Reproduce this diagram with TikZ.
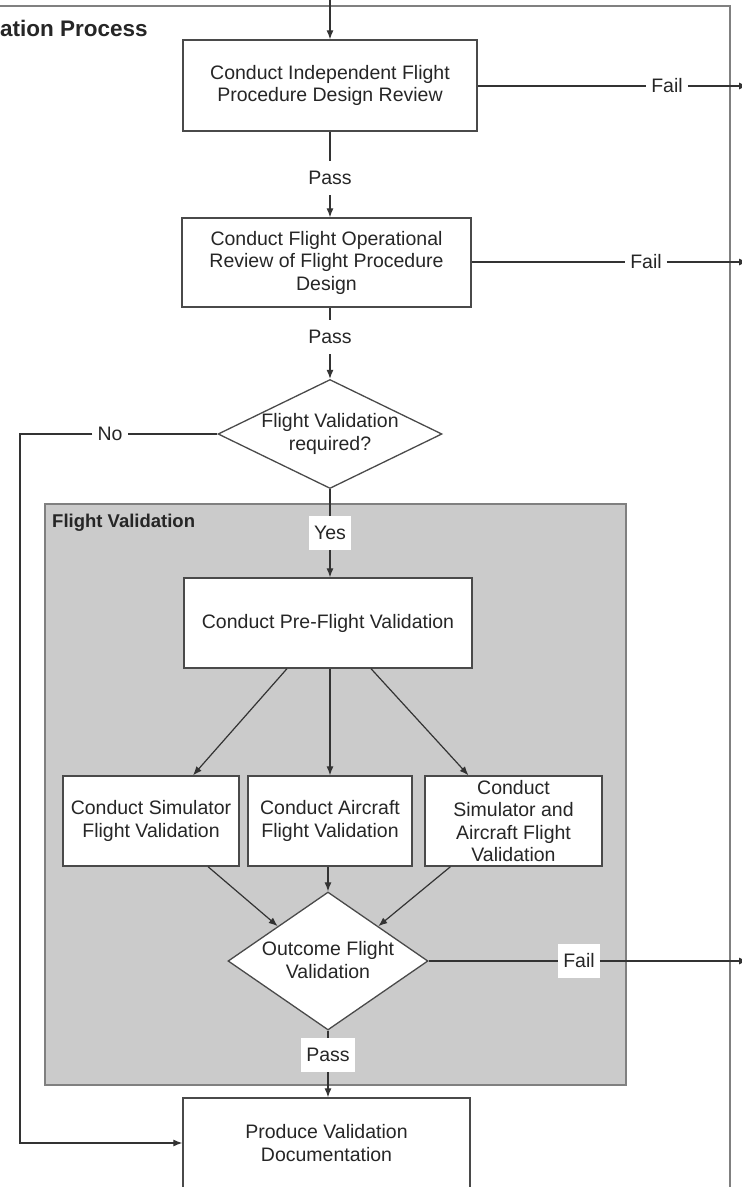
\documentclass[tikz,border=0pt]{standalone}
\usepackage{fontspec}
\setmainfont{Liberation Sans}
\usetikzlibrary{shapes.geometric,arrows.meta}
\definecolor{ln}{HTML}{333333}
\definecolor{tx}{HTML}{262626}
\definecolor{framec}{HTML}{808080}
\definecolor{panelc}{HTML}{CBCBCB}
\definecolor{bd}{HTML}{4A4A4A}
\begin{document}
\begin{tikzpicture}[x=1pt,y=-1pt,
  font=\fontsize{19.5}{22.5}\selectfont, text=tx,
  box/.style={draw=bd, line width=1.3pt, fill=white, align=center, inner sep=0pt},
  dec/.style={diamond, draw=bd, line width=1.3pt, fill=white, inner sep=0pt},
  dtxt/.style={align=center, inner sep=0pt},
  lbl/.style={fill=white, inner xsep=5pt, inner ysep=0pt, minimum height=34pt},
  con/.style={draw=ln, line width=1.2pt},
  arr/.style={con, -{Latex[length=9pt,width=7pt]}},
  ttl/.style={font=\fontsize{22.5}{26}\selectfont\bfseries, inner sep=0pt},
  sttl/.style={font=\fontsize{18.5}{22}\selectfont\bfseries, inner sep=0pt},
]
\useasboundingbox (0,0) rectangle (742,1187);
\fill[white] (0,0) rectangle (742,1187);

% outer frame
\draw[framec, line width=1.5pt] (-5,6) -- (730,6) -- (730,1200);
\node[ttl, anchor=west] (title) at (0,28) {ation Process};

% flight validation panel
\draw[fill=panelc, draw=framec, line width=1.5pt] (45,504) rectangle (626,1085);
\node[sttl, anchor=west] (ptitle) at (52,523) {Flight Validation};

% nodes
\node[box, minimum width=294pt, minimum height=91pt] (b1) at (330,85.5)
  {Conduct Independent Flight\\Procedure Design Review};
\node[box, minimum width=289pt, minimum height=89pt] (b2) at (326.5,262.5)
  {Conduct Flight Operational\\Review of Flight Procedure\\Design};
\node[dec, minimum width=224pt, minimum height=109pt] (d1) at (330,434) {};
\node[dtxt] (d1t) at (330,434) {Flight Validation\\required?};
\node[box, minimum width=288pt, minimum height=90pt] (b3) at (328,623)
  {Conduct Pre-Flight Validation};
\node[box, minimum width=176pt, minimum height=90pt] (b4) at (151,821)
  {Conduct Simulator\\Flight Validation};
\node[box, minimum width=164pt, minimum height=90pt] (b5) at (330,821)
  {Conduct Aircraft\\Flight Validation};
\node[box, minimum width=177pt, minimum height=90pt] (b6) at (513.5,821)
  {Conduct\\Simulator and\\Aircraft Flight\\Validation};
\node[dec, minimum width=200pt, minimum height=138pt] (d2) at (328,961) {};
\node[dtxt] (d2t) at (328,960) {Outcome Flight\\Validation};
\node[box, minimum width=287pt, minimum height=90pt] (b7) at (326.5,1143)
  {Produce Validation\\Documentation};

% labels
\node[lbl] (p1) at (330,178) {Pass};
\node[lbl] (p2) at (330,337) {Pass};
\node[lbl] (yes) at (330,533) {Yes};
\node[lbl] (p3) at (328,1055) {Pass};
\node[lbl] (f1) at (667,86) {Fail};
\node[lbl] (f2) at (646,262) {Fail};
\node[lbl] (f3) at (579,961) {Fail};
\node[lbl] (no) at (110,434) {No};

% free ends
\coordinate (top) at (330,-5);
\coordinate (e1) at (748,86);
\coordinate (e2) at (748,262);
\coordinate (e3) at (748,961);
\coordinate (n1) at (20,434);

% connectors
\draw[arr] (top) -- (b1.north);
\draw[con] (b1.south) -- (p1);
\draw[arr] (p1) -- (b2.north -| p1);
\draw[con] (b2.south -| p2) -- (p2);
\draw[arr] (p2) -- (d1.north);
\draw[con] (d1.south) -- (yes);
\draw[arr] (yes) -- (b3.north -| yes);
\draw[con] (b1.east |- f1) -- (f1);
\draw[arr] (f1) -- (e1);
\draw[con] (b2.east |- f2) -- (f2);
\draw[arr] (f2) -- (e2);
\draw[con] (d1.west) -- (no);
\draw[arr] (no) -- (n1) |- (b7.west);

\draw[arr] ([xshift=-41pt]b3.south) -- ([xshift=42pt]b4.north);
\draw[arr] (b3.south -| b5.north) -- (b5.north);
\draw[arr] ([xshift=43pt]b3.south) -- ([xshift=-45pt]b6.north);

\draw[arr] ([xshift=57pt]b4.south) -- (d2.north west);
\draw[arr] (b5.south -| d2.north) -- (d2.north);
\draw[arr] ([xshift=-63pt]b6.south) -- (d2.north east);

\draw[con] (d2.east) -- (f3);
\draw[arr] (f3) -- (e3);
\draw[con] (d2.south) -- (p3);
\draw[arr] (p3) -- (b7.north -| p3);
\end{tikzpicture}
\end{document}
